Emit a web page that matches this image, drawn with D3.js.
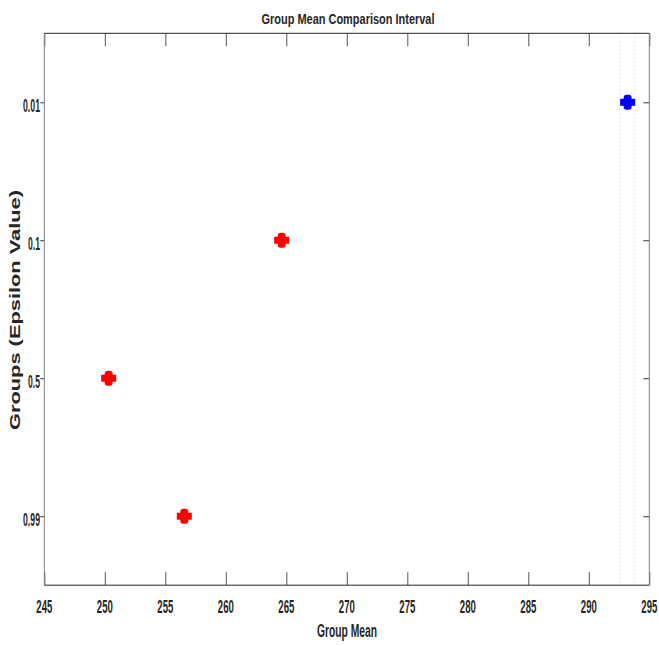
<!DOCTYPE html>
<html>
<head>
<meta charset="utf-8">
<script src="https://cdn.jsdelivr.net/npm/d3@7"></script>
<style>
  html, body { margin: 0; padding: 0; background: #fff; }
  text { font-family: "Liberation Sans", Arial, sans-serif; font-weight: bold; fill: #262626; }
</style>
</head>
<body>
<script>
// ---- data ----
const groups = ["0.01", "0.1", "0.5", "0.99"];
const groupMeans = [293.21, 264.62, 250.32, 256.57];
const halfWidths = [0.62, 0.62, 0.62, 0.62];
const groupColors = ["#0000ff", "#ff0000", "#ff0000", "#ff0000"];
const xTicks = [245, 250, 255, 260, 265, 270, 275, 280, 285, 290, 295];
const selectedGroup = 0;

(function () {
const W = 659, H = 646;
const pL = 44.3, pR = 649.3, pT = 33.3, pB = 585.2;

const svg = d3.select("body").append("svg").attr("width", W).attr("height", H);

const x = d3.scaleLinear().domain([245, 295]).range([pL, pR]);
const y = d3.scaleLinear().domain([0.5, 4.5]).range([pT, pB]);

// dotted reference lines for selected group
const sLo = groupMeans[selectedGroup] - halfWidths[selectedGroup];
const sHi = groupMeans[selectedGroup] + halfWidths[selectedGroup];
svg.selectAll("line.ref").data([sLo, sHi]).enter().append("line")
  .attr("x1", d => x(d)).attr("x2", d => x(d))
  .attr("y1", pT).attr("y2", pB)
  .attr("stroke", "#c8c8c8").attr("stroke-width", 1).attr("stroke-dasharray", "1,3");

// axes
svg.append("g").attr("transform", `translate(0,${pB})`).call(d3.axisTop(x).tickValues(xTicks).tickSize(13).tickFormat(""))
  .call(g => { g.select(".domain").remove(); g.selectAll("line").attr("stroke", "#555"); });
svg.append("g").attr("transform", `translate(0,${pT})`).call(d3.axisBottom(x).tickValues(xTicks).tickSize(13).tickFormat(""))
  .call(g => { g.select(".domain").remove(); g.selectAll("line").attr("stroke", "#555"); });

const yIdx = groups.map((g, i) => i + 1);
svg.append("g").attr("transform", `translate(${pL},0)`).call(d3.axisLeft(y).tickValues(yIdx).tickSize(4).tickFormat(""))
  .call(g => { g.select(".domain").remove(); g.selectAll("line").attr("stroke", "#333"); });
svg.append("g").attr("transform", `translate(${pR},0)`).call(d3.axisLeft(y).tickValues(yIdx).tickSize(6).tickFormat(""))
  .call(g => { g.select(".domain").remove(); g.selectAll("line").attr("stroke", "#333"); });

// box
svg.append("line").attr("x1", pL).attr("x2", pR).attr("y1", pT).attr("y2", pT).attr("stroke", "#262626");
svg.append("line").attr("x1", pL).attr("x2", pR).attr("y1", pB).attr("y2", pB).attr("stroke", "#262626");
svg.append("line").attr("x1", pL).attr("x2", pL).attr("y1", pT).attr("y2", pB).attr("stroke", "#808080");
svg.append("line").attr("x1", pR).attr("x2", pR).attr("y1", pT).attr("y2", pB).attr("stroke", "#808080");

// x tick labels
svg.selectAll("text.xt").data(xTicks).enter().append("text")
  .attr("x", d => x(d)).attr("y", 613.3)
  .attr("text-anchor", "middle")
  .attr("font-size", 19)
  .attr("textLength", 16).attr("lengthAdjust", "spacingAndGlyphs")
  .text(d => d);

// y tick labels
svg.selectAll("text.yt").data(groups).enter().append("text")
  .attr("x", 40).attr("y", (d, i) => y(i + 1) + 9.5)
  .attr("text-anchor", "end")
  .attr("font-size", 18)
  .attr("textLength", d => d.length === 4 ? 17 : 12).attr("lengthAdjust", "spacingAndGlyphs")
  .text(d => d);

// marks
const marks = svg.selectAll("g.mark").data(groups).enter().append("g");
marks.append("rect")
  .attr("x", (d, i) => x(groupMeans[i] - halfWidths[i]))
  .attr("width", (d, i) => x(groupMeans[i] + halfWidths[i]) - x(groupMeans[i] - halfWidths[i]))
  .attr("y", (d, i) => y(i + 1) - 3.5).attr("height", 7)
  .attr("fill", (d, i) => groupColors[i]);
marks.append("rect")
  .attr("x", (d, i) => x(groupMeans[i]) - 4).attr("width", 8)
  .attr("y", (d, i) => y(i + 1) - 7.5).attr("height", 15)
  .attr("rx", 3).attr("ry", 3)
  .attr("fill", (d, i) => groupColors[i]);

// title & labels
svg.append("text").attr("x", 348).attr("y", 23.5).attr("text-anchor", "middle")
  .attr("font-size", 14).attr("textLength", 173).attr("lengthAdjust", "spacingAndGlyphs")
  .text("Group Mean Comparison Interval");
svg.append("text").attr("x", 347).attr("y", 637).attr("text-anchor", "middle")
  .attr("font-size", 18).attr("textLength", 60).attr("lengthAdjust", "spacingAndGlyphs")
  .text("Group Mean");
svg.append("text").attr("transform", "translate(20,310) rotate(-90)").attr("text-anchor", "middle")
  .attr("font-size", 14).attr("textLength", 240).attr("lengthAdjust", "spacingAndGlyphs")
  .text("Groups (Epsilon Value)");
})();
</script>
</body>
</html>
